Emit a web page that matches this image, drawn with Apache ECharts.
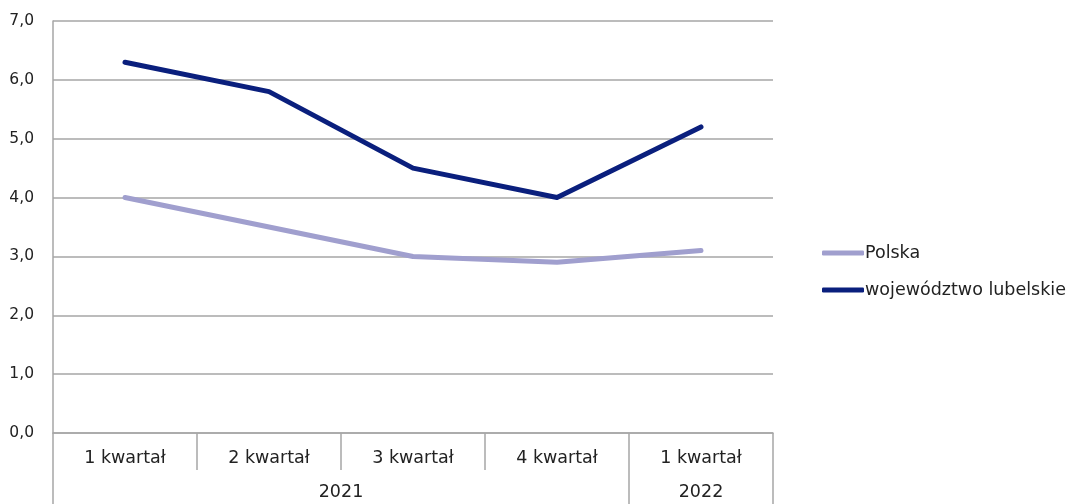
<!DOCTYPE html>
<html>
<head>
<meta charset="utf-8">
<script src="https://cdn.jsdelivr.net/npm/echarts@6/dist/echarts.min.js"></script>
<style>html,body{margin:0;padding:0;background:#fff}#c{width:1068px;height:504px}</style>
</head>
<body>
<div id="c"></div>
<script>
const categories = ['1 kwartał', '2 kwartał', '3 kwartał', '4 kwartał', '1 kwartał'];
const years = ['2021', '2022'];
const yearBounds = [0, 4, 5];
const yearCenters = [2, 4.5];
const polska = [4.0, 3.5, 3.0, 2.9, 3.1];
const lubelskie = [6.3, 5.8, 4.5, 4.0, 5.2];

const font = 'DejaVu Sans';
const fs = 17.5;
const gray = '#a6a6a6';
const txt = '#222222';
const chart = echarts.init(document.getElementById('c'));
chart.setOption({
  animation: false,
  textStyle: { fontFamily: font },
  grid: { left: 53, right: 295, top: 21, bottom: 71 },
  legend: {
    orient: 'vertical', left: 817, top: 239, itemGap: 19,
    itemWidth: 42, itemHeight: 5, icon: 'roundRect',
    textStyle: { fontFamily: font, fontSize: fs, color: txt, padding: [0,0,0,-4] },
    data: ['Polska', 'województwo lubelskie']
  },
  xAxis: [{
    type: 'category', data: categories, boundaryGap: true,
    axisLine: { lineStyle: { color: gray, width: 1.5 } },
    axisTick: { show: true, interval: 0, length: 37, lineStyle: { color: gray, width: 1.5 } },
    axisLabel: { margin: 16, fontSize: fs, color: txt, fontFamily: font, interval: 0 }
  }, {
    type: 'value', min: 0, max: 5, position: 'bottom',
    axisLine: { show: false }, splitLine: { show: false },
    axisTick: { show: true, customValues: yearBounds, length: 71, lineStyle: { color: gray, width: 1.5 } },
    axisLabel: { customValues: yearCenters, margin: 50, fontSize: fs, color: txt, fontFamily: font,
      formatter: v => v === yearCenters[0] ? years[0] : years[1] }
  }],
  yAxis: {
    type: 'value', min: 0, max: 7, interval: 1,
    axisLine: { show: true, lineStyle: { color: gray, width: 1.5 } },
    axisTick: { show: false },
    splitLine: { lineStyle: { color: gray, width: 1.5 } },
    axisLabel: { margin: 19, fontSize: 15.5, color: txt, fontFamily: font,
      formatter: v => v.toFixed(1).replace('.', ',') }
  },
  series: [{
    name: 'Polska', type: 'line', data: polska, xAxisIndex: 0, symbol: 'none',
    lineStyle: { color: '#a09fce', width: 5, cap: 'round', join: 'round' }, itemStyle: { color: '#a09fce' }
  }, {
    name: 'województwo lubelskie', type: 'line', data: lubelskie, xAxisIndex: 0, symbol: 'none',
    lineStyle: { color: '#0a1f7d', width: 5, cap: 'round', join: 'round' }, itemStyle: { color: '#0a1f7d' }
  }]
});
</script>
</body>
</html>
